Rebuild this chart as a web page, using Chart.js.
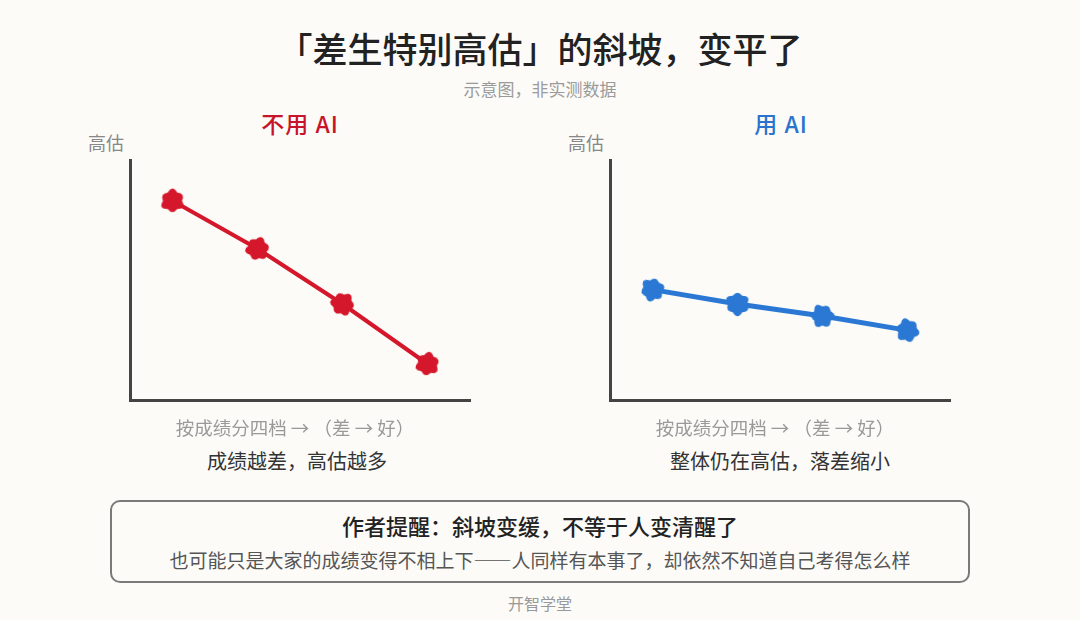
<!DOCTYPE html>
<html lang="zh">
<head>
<meta charset="utf-8">
<script src="https://cdn.jsdelivr.net/npm/chart.js@4.4.1/dist/chart.umd.min.js"></script>
<style>
html,body{margin:0;padding:0;}
body{
    width:1080px;
    height:620px;
    background:#fcfbf8;
    font-family:"Noto Sans CJK SC","Noto Sans",sans-serif;
    position:relative;
    overflow:hidden;
}
.txt{position:absolute;white-space:nowrap;transform:translate(-50%,-50%);line-height:1;}
#title{left:540px;top:47px;font-size:35px;font-weight:500;color:#222;}
#subtitle{left:540px;top:88px;font-size:17px;color:#9a9a9a;}
.panelTitle{top:123px;font-size:23px;font-weight:500;letter-spacing:1px;}
#leftTitle{left:300px;color:#c8142b;}
#rightTitle{left:781px;color:#2a74cf;}
.yLabel{top:142px;font-size:18px;color:#888;transform:translate(0,-50%);}
#leftY{left:88px;}
#rightY{left:568px;}
.xLabel{top:427px;font-size:18.5px;color:#999;}
.note{top:461px;font-size:20px;color:#333;}
.chartBox{position:absolute;top:140px;width:380px;height:280px;}
#leftBox{left:110px;}
#rightBox{left:590px;}
#remind{
    position:absolute;
    left:110px;
    top:500px;
    width:856px;
    height:79px;
    border:2px solid #7a7a7a;
    border-radius:10px;
}
#remind1{left:540px;top:525px;font-size:22px;font-weight:500;color:#222;}
#remind2{left:540px;top:559px;font-size:19px;color:#555;}
#footer{left:540px;top:603px;font-size:16px;color:#999;}
</style>
</head>
<body>

<div class="txt" id="title">「差生特别高估」的斜坡，变平了</div>
<div class="txt" id="subtitle">示意图，非实测数据</div>

<div class="txt panelTitle" id="leftTitle">不用 AI</div>
<div class="txt panelTitle" id="rightTitle">用 AI</div>

<div class="txt yLabel" id="leftY">高估</div>
<div class="txt yLabel" id="rightY">高估</div>

<div class="chartBox" id="leftBox"><canvas id="leftChart"></canvas></div>
<div class="chartBox" id="rightBox"><canvas id="rightChart"></canvas></div>

<div class="txt xLabel" style="left:295px;">按成绩分四档 → （差 → 好）</div>
<div class="txt xLabel" style="left:775px;">按成绩分四档 → （差 → 好）</div>

<div class="txt note" style="left:297px;">成绩越差，高估越多</div>
<div class="txt note" style="left:780px;">整体仍在高估，落差缩小</div>

<div id="remind"></div>
<div class="txt" id="remind1">作者提醒：斜坡变缓，不等于人变清醒了</div>
<div class="txt" id="remind2">也可能只是大家的成绩变得不相上下——人同样有本事了，却依然不知道自己考得怎么样</div>

<div class="txt" id="footer">开智学堂</div>

<script>
// =========================================
// Data
// =========================================

const tiers = ["第一档","第二档","第三档","第四档"];

// overestimate level, 0 = none, 100 = top of axis
const noAiValues = [83, 63, 40, 15];
const withAiValues = [46, 40, 35, 29];

const yMin = 0;
const yMax = 100;

// =========================================
// Hand drawn blob marker
// =========================================

function makeBlob(color, bumps){

    const size = 34;
    const c = document.createElement("canvas");
    c.width = size;
    c.height = size;
    const ctx = c.getContext("2d");

    ctx.translate(size/2, size/2);
    ctx.fillStyle = color;
    ctx.beginPath();

    const n = bumps.length;

    for(let i=0;i<n;i++){

        const a0 = i/n*Math.PI*2;
        const a1 = (i+0.5)/n*Math.PI*2;
        const a2 = (i+1)/n*Math.PI*2;

        const r0 = 9.5;
        const r1 = bumps[i];

        if(i===0){
            ctx.moveTo(Math.cos(a0)*r0, Math.sin(a0)*r0);
        }

        ctx.quadraticCurveTo(
            Math.cos(a1)*r1*1.15, Math.sin(a1)*r1*1.15,
            Math.cos(a2)*r0, Math.sin(a2)*r0
        );

    }

    ctx.closePath();
    ctx.fill();

    return c;
}

const redBlob = makeBlob("#d4172a", [14, 12.5, 14.5, 12.5, 14, 13]);
const blueBlob = makeBlob("#2a78d4", [13.5, 14, 12.5, 14.5, 12.5, 14]);

// =========================================
// Chart
// =========================================

function createPanel(id, values, color, width, blob, rotations){

    return new Chart(

        document.getElementById(id),

        {

            type:"line",

            data:{

                labels:tiers,

                datasets:[{

                    data:values,

                    borderColor:color,

                    borderWidth:width,

                    tension:0,

                    pointStyle:blob,

                    pointRotation:rotations,

                    pointRadius:14

                }]

            },

            options:{

                responsive:true,

                maintainAspectRatio:false,

                animation:false,

                layout:{
                    padding:{left:20, right:20, top:20, bottom:20}
                },

                plugins:{
                    legend:{display:false},
                    tooltip:{enabled:false}
                },

                scales:{

                    x:{
                        offset:true,
                        ticks:{display:false},
                        grid:{display:false, drawTicks:false},
                        border:{display:true, color:"#444", width:3}
                    },

                    y:{
                        min:yMin,
                        max:yMax,
                        ticks:{display:false},
                        grid:{display:false, drawTicks:false},
                        border:{display:true, color:"#444", width:3}
                    }

                }

            }

        }

    );

}

createPanel("leftChart", noAiValues, "#d4172a", 4, redBlob, [0, 20, 40, 10]);

createPanel("rightChart", withAiValues, "#2a78d4", 5, blueBlob, [15, 0, 30, 45]);
</script>
</body>
</html>
